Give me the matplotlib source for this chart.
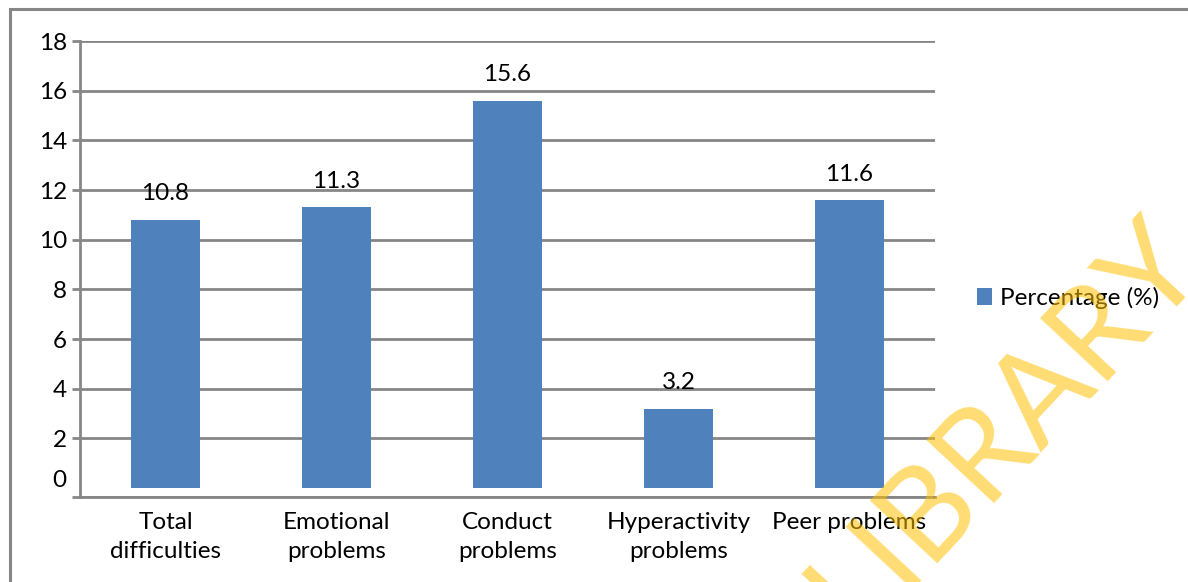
import numpy as np
import matplotlib
matplotlib.use("Agg")
import matplotlib.pyplot as plt
from matplotlib.patches import Rectangle

categories = ["Total\ndifficulties", "Emotional\nproblems", "Conduct\nproblems",
              "Hyperactivity\nproblems", "Peer problems"]
percentages = [10.8, 11.3, 15.6, 3.2, 11.6]
series_name = "Percentage (%)"
y_ticks = [0, 2, 4, 6, 8, 10, 12, 14, 16, 18]

BAR_COLOR = "#4F81BD"
GRID_COLOR = "#868686"
plt.rcParams["font.family"] = ["Lato", "DejaVu Sans"]
FS = 17.5

W, H = 1188, 582
fig = plt.figure(figsize=(W / 100, H / 100), dpi=100)

# outer frame of the chart area
fig.patches.append(Rectangle((10 / W, -0.05), 1.2, 1 - 9 / H + 0.05,
                             transform=fig.transFigure, fill=False,
                             edgecolor=GRID_COLOR, linewidth=2.2))

ax = fig.add_axes([80 / W, 1 - 497 / H, (935 - 80) / W, (497 - 41) / H])
ymin = -0.36
ax.set_ylim(ymin, 18)
x = np.arange(len(categories))
ax.set_xlim(-0.5, len(categories) - 0.5)

bars = ax.bar(x, percentages, width=0.4, color=BAR_COLOR, zorder=3)

# value labels above the bars
for xi, v in zip(x, percentages):
    ax.annotate(f"{v:g}", xy=(xi, v), xytext=(0, 14), textcoords="offset points",
                ha="center", va="baseline", fontsize=FS, color="black")

# y axis: gridlines at the ticks, baseline drawn at the bottom of the range
ax.set_yticks([ymin] + y_ticks[1:])
ax.set_yticklabels([""] + [str(t) for t in y_ticks[1:]])
ax.annotate(str(y_ticks[0]), xy=(0, 0.3), xycoords=ax.get_yaxis_transform(),
            xytext=(-9.5, 0), textcoords="offset points",
            ha="right", va="center", fontsize=FS)
ax.yaxis.grid(True, color=GRID_COLOR, linewidth=2.0, zorder=1)
ax.set_axisbelow(True)
ax.tick_params(axis="y", length=5.8, width=2.0, color=GRID_COLOR, pad=3.5,
               labelsize=FS)

ax.set_xticks(x)
ax.set_xticklabels(categories, fontsize=FS, linespacing=1.45)
ax.tick_params(axis="x", length=0, pad=11)

for side in ("top", "right"):
    ax.spines[side].set_visible(False)
for side in ("left", "bottom"):
    ax.spines[side].set_color(GRID_COLOR)
    ax.spines[side].set_linewidth(2.0)

fig.legend([bars], [series_name], loc="center left",
           bbox_to_anchor=(977 / W, 1 - 298 / H), frameon=False,
           fontsize=FS, handlelength=0.6, handleheight=0.75,
           handletextpad=0.35, borderpad=0, borderaxespad=0)

fig.text(1005 / W, 1 - 425 / H, "LIBRARY", rotation=47, rotation_mode="anchor",
         ha="center", va="center", fontsize=92, color="#FFC000", alpha=0.55,
         zorder=10)

fig.savefig("out.png", dpi=100)
